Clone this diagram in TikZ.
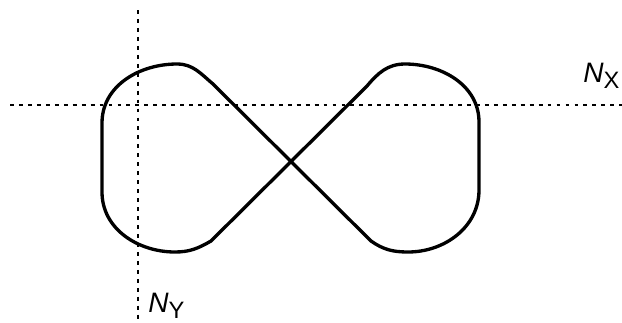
\documentclass[tikz,border=0pt]{standalone}
\usepackage{fontspec}
\setmainfont{Liberation Sans}
\usetikzlibrary{positioning}
\newcommand{\axsub}[1]{\raisebox{-3.8pt}{\fontsize{13.5}{16}\selectfont #1}}

\begin{document}
\begin{tikzpicture}[
x=0.02cm,y=0.02cm,
axis/.style={line width=0.8pt,dash pattern=on 2.2pt off 2.9pt},
curve/.style={line width=1.9pt,line join=round},
lbl/.style={inner sep=0pt,font=\fontsize{16}{19}\selectfont}
]
\useasboundingbox (0,0) rectangle (622,-322);
% axes
\coordinate (xl) at (10,-105);
\coordinate (xr) at (622,-105);
\coordinate (yt) at (138,-10);
\coordinate (yb) at (138,-322);
\draw[axis] (xl) -- (xr);
\draw[axis] (yt) -- (yb);
% figure eight
\draw[curve] (213,-84) to[out=140,in=0] (177,-64)
  to[out=180,in=90] (102,-123) -- (102,-192)
  to[out=-90,in=180] (175,-252) to[out=0,in=-150] (211,-241)
  -- (367,-86) to[out=50,in=180] (405,-64)
  to[out=0,in=90] (479,-122) -- (479,-190)
  to[out=-90,in=0] (408,-252) to[out=180,in=-35] (371,-241)
  -- cycle;
% labels
\node[lbl,anchor=base west] (nx) at (583,-82) {\textit{N}\axsub{X}};
\node[lbl,anchor=base west] (ny) at (148,-312) {\textit{N}\axsub{Y}};
\end{tikzpicture}
\end{document}
